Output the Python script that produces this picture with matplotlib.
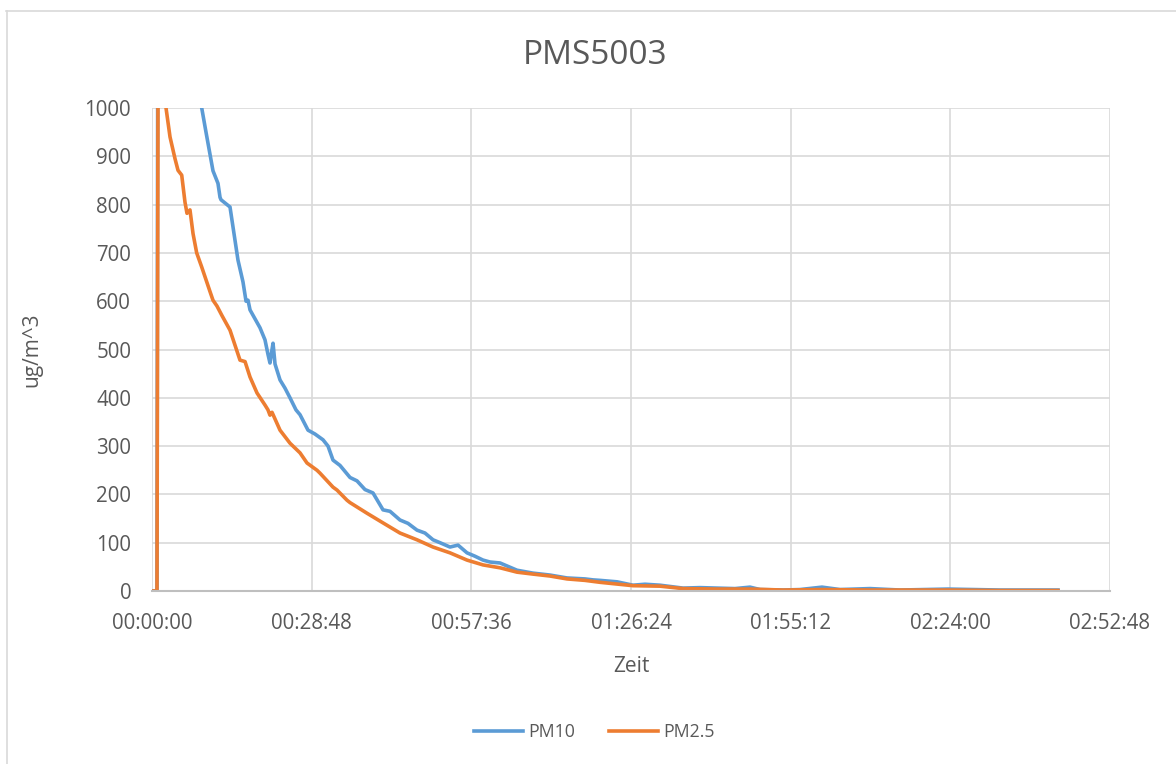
import numpy as np
import matplotlib.pyplot as plt
from matplotlib.lines import Line2D
from matplotlib.ticker import FixedLocator, FuncFormatter

# time in minutes since start, values in ug/m^3
pm10_t = [0.0, 0.90, 1.08, 7.76, 8.97, 9.74, 11.0, 11.9, 12.27, 12.45, 14.07,
          15.51, 16.41, 16.96, 17.32, 17.68, 19.48, 20.38, 20.92, 21.28, 21.65,
          21.83, 22.19, 23.09, 23.99, 24.89, 25.97, 26.70, 27.60, 28.14, 29.40,
          30.85, 31.75, 32.65, 33.91, 35.72, 36.98, 38.42, 39.86, 41.67, 42.93,
          44.73, 46.18, 47.80, 49.24, 50.69, 51.95, 53.75, 55.20, 56.82, 58.26,
          59.71, 60.97, 62.78, 65.84, 68.72, 71.79, 74.86, 78.10, 79.55, 80.81,
          83.88, 86.76, 88.93, 91.63, 95.78, 98.85, 101.91, 105.16, 107.87,
          109.67, 113.82, 116.89, 120.85, 124.10, 129.51, 134.92, 143.58,
          152.96, 163.42]
pm10_v = [0, 0, 1500, 1100, 1000, 950, 870, 844, 815, 810, 795,
          685, 640, 600, 602, 582, 545, 520, 490, 472, 500,
          513, 470, 437, 420, 400, 375, 365, 345, 333, 325,
          313, 300, 271, 260, 235, 228, 210, 203, 168, 165,
          147, 140, 126, 120, 106, 100, 91, 95, 79, 72,
          64, 60, 58, 43, 37, 33, 27, 25, 23, 22,
          19, 12, 14, 12, 6, 7, 6, 5, 8,
          3, 2, 3, 8, 3, 5, 2, 4,
          2, 2]

pm25_t = [0.0, 0.90, 1.17, 1.80, 2.53, 3.25, 4.15, 4.69, 5.36, 5.95, 6.31,
          6.85, 7.40, 8.06, 8.96, 10.46, 11.00, 11.72, 12.63, 14.07, 15.87,
          16.78, 17.68, 18.94, 20.38, 20.92, 21.28, 21.65, 23.09, 24.89, 26.70,
          27.96, 29.76, 30.30, 32.65, 33.37, 35.17, 35.72, 38.78, 41.67, 44.73,
          47.80, 50.69, 53.75, 56.82, 59.71, 62.78, 65.84, 68.72, 71.79, 74.86,
          78.10, 80.81, 86.76, 91.63, 95.78, 101.91, 107.87, 113.82, 120.85,
          129.51, 143.58, 152.96, 163.42]
pm25_v = [0, 0, 1500, 1300, 1000, 940, 895, 871, 861, 805, 782,
          789, 740, 700, 671, 620, 602, 590, 570, 540, 478,
          475, 443, 410, 385, 375, 364, 370, 333, 306, 286,
          265, 250, 244, 215, 209, 188, 183, 161, 141, 120,
          106, 91, 79, 64, 54, 48, 39, 35, 31, 25,
          22, 18, 11, 10, 5, 4, 4, 2, 3,
          2, 2, 1, 1]

x_max = 172.8  # 02:52:48
x_ticks = [0, 28.8, 57.6, 86.4, 115.2, 144.0, 172.8]
y_ticks = list(range(0, 1001, 100))

plt.rcParams["font.family"] = ["Open Sans", "DejaVu Sans"]
grey = "#595959"

fig = plt.figure(figsize=(11.76, 7.64), dpi=100)
ax = fig.add_axes([152 / 1176, 1 - 591 / 764, 958 / 1176, 483 / 764])

ax.plot(pm10_t, pm10_v, color="#5B9BD5", lw=2.6, label="PM10", solid_joinstyle="round")
ax.plot(pm25_t, pm25_v, color="#ED7D31", lw=2.6, label="PM2.5", solid_joinstyle="round")

ax.set_xlim(0, x_max)
ax.set_ylim(0, 1000)
ax.xaxis.set_major_locator(FixedLocator(x_ticks))
ax.yaxis.set_major_locator(FixedLocator(y_ticks))


def hms(m, pos):
    s = int(round(m * 60))
    return f"{s // 3600:02d}:{(s % 3600) // 60:02d}:{s % 60:02d}"


ax.xaxis.set_major_formatter(FuncFormatter(hms))
ax.grid(True, color="#D9D9D9", lw=1.2)
ax.set_axisbelow(True)
for side in ["top", "right", "left"]:
    ax.spines[side].set_visible(False)
ax.spines["bottom"].set_color("#BFBFBF")
ax.spines["bottom"].set_linewidth(1.5)
ax.tick_params(length=0, colors=grey, labelsize=14.8)
ax.tick_params(axis="x", pad=16)
ax.tick_params(axis="y", pad=15)

fig.text(595 / 1176, 1 - 56 / 764, "PMS5003", fontsize=24, color=grey,
         ha="center", va="center")
ax.set_xlabel("Zeit", fontsize=15, color=grey, labelpad=16)
ax.set_ylabel("ug/m^3", fontsize=15, color=grey, labelpad=30)

leg = fig.legend(loc="center", bbox_to_anchor=(594 / 1176, 1 - 732 / 764), ncol=2,
                 frameon=False, fontsize=12.8, handlelength=2.8, columnspacing=1.9,
                 handletextpad=0.25)
for t in leg.get_texts():
    t.set_color(grey)

# chart border
fig.add_artist(Line2D([6 / 1176, 1], [1 - 10.5 / 764] * 2, color="#D9D9D9", lw=1.2))
fig.add_artist(Line2D([6.5 / 1176] * 2, [0, 1 - 10.5 / 764], color="#D9D9D9", lw=1.2))

fig.savefig("out.png", dpi=100)
